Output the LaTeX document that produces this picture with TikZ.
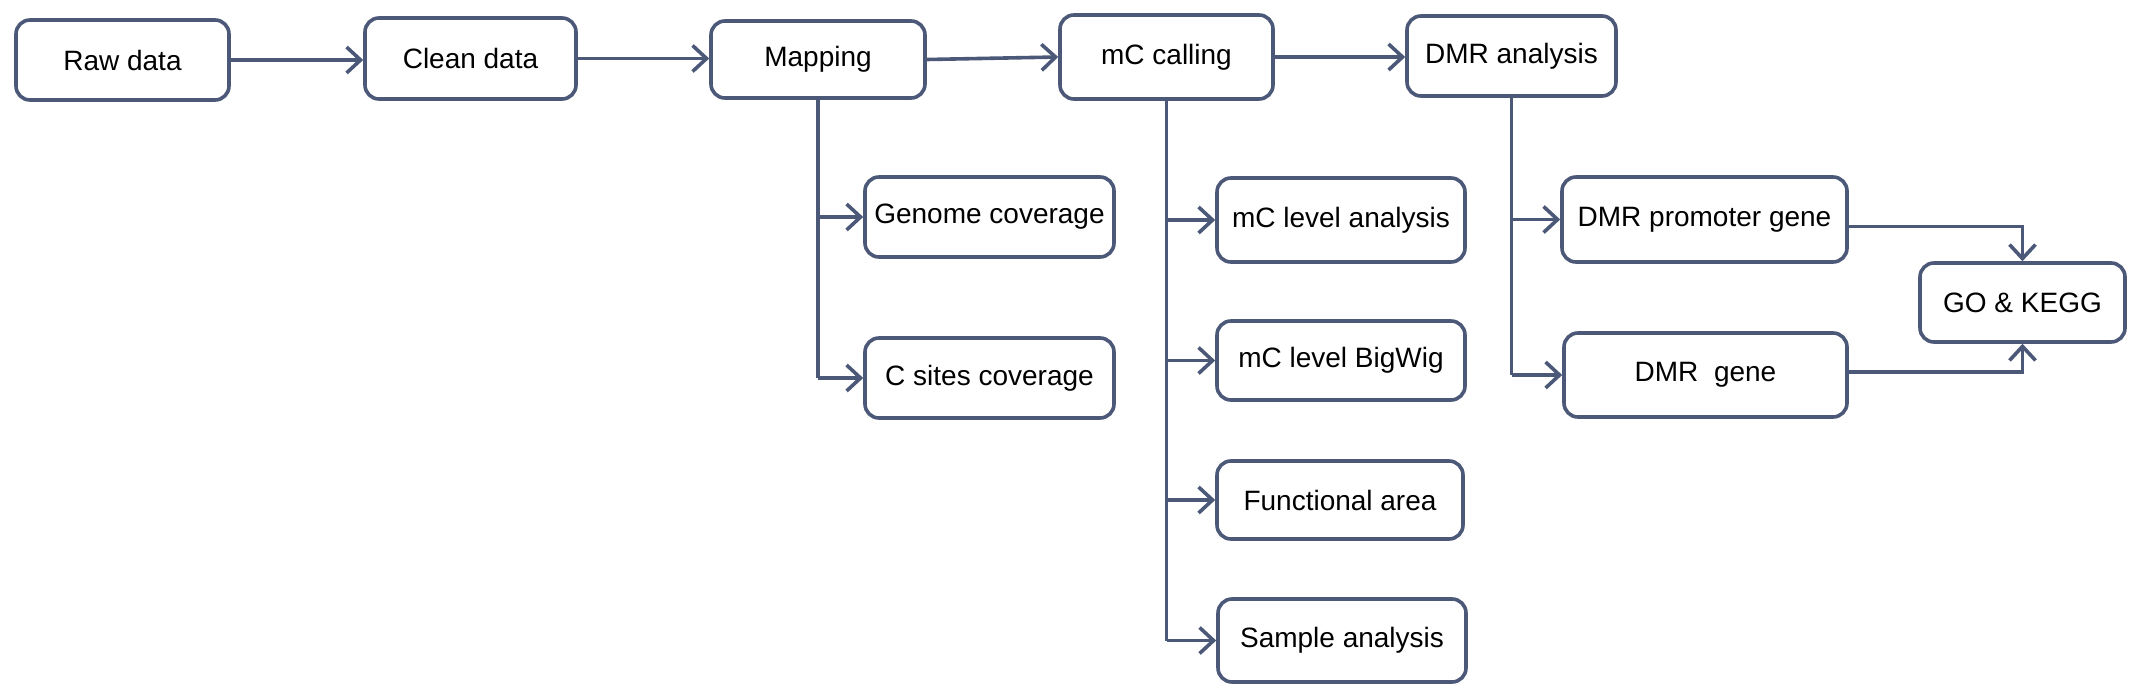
\documentclass[tikz,border=0pt]{standalone}
\usepackage{fontspec}
\setmainfont{Liberation Sans}
\usetikzlibrary{arrows.meta}
\definecolor{lc}{RGB}{76,88,120}
\begin{document}
\begin{tikzpicture}[x=0.5pt,y=-0.5pt,
  box/.style={draw=lc,line width=1.8pt,rounded corners=7pt,fill=white,inner sep=0pt,
    font=\fontsize{14pt}{16pt}\selectfont,text=black},
  conn/.style={draw=lc,line width=1.8pt,-{Straight Barb[length=7pt,width=13pt,line width=1.8pt]}},
  plain/.style={draw=lc,line width=1.8pt}]
\useasboundingbox (0,0) rectangle (2138,696);
\node[box,minimum width=106.5pt,minimum height=40pt] (raw) at (122.5,60) {Raw data};
\node[box,minimum width=105.5pt,minimum height=40.5pt] (clean) at (470.5,58.5) {Clean data};
\node[box,minimum width=107pt,minimum height=38.5pt] (map) at (818,59.5) {Mapping};
\node[box,minimum width=106.5pt,minimum height=42pt] (mc) at (1166.5,57) {mC calling};
\node[box,minimum width=104.5pt,minimum height=40pt] (dmr) at (1511.5,56) {DMR analysis};
\node[box,minimum width=124.5pt,minimum height=40pt] (gen) at (989.5,217) {Genome coverage};
\node[box,minimum width=124.5pt,minimum height=40pt] (cs) at (989.5,378) {C sites coverage};
\node[box,minimum width=124pt,minimum height=42pt] (mcl) at (1341,220) {mC level analysis};
\node[box,minimum width=124pt,minimum height=39.5pt] (bw) at (1341,360.5) {mC level BigWig};
\node[box,minimum width=123pt,minimum height=39pt] (fa) at (1340,500) {Functional area};
\node[box,minimum width=124pt,minimum height=41.5pt] (sa) at (1342,640.5) {Sample analysis};
\node[box,minimum width=142.5pt,minimum height=42.5pt] (prom) at (1704.5,219.5) {DMR promoter gene};
\node[box,minimum width=141.5pt,minimum height=42pt] (dg) at (1705.5,375) {DMR~ gene};
\node[box,minimum width=102.5pt,minimum height=39.5pt] (go) at (2022.5,302.5) {GO \& KEGG};
% main row
\draw[conn] (raw.east) -- (raw.east -| clean.west);
\draw[conn] (clean.east) -- (clean.east -| map.west);
\draw[conn] (map.east) -- (mc.west);
\draw[conn] (mc.east) -- (mc.east -| dmr.west);
% mapping branch
\draw[plain] (map.south) -- (map.south |- cs.west);
\draw[conn] (map.south |- gen.west) -- (gen.west);
\draw[conn] (map.south |- cs.west) -- (cs.west);
% mC branch
\draw[plain] (mc.south) -- (mc.south |- sa.west);
\draw[conn] (mc.south |- mcl.west) -- (mcl.west);
\draw[conn] (mc.south |- bw.west) -- (bw.west);
\draw[conn] (mc.south |- fa.west) -- (fa.west);
\draw[conn] (mc.south |- sa.west) -- (sa.west);
% DMR branch
\draw[plain] (dmr.south) -- (dmr.south |- dg.west);
\draw[conn] (dmr.south |- prom.west) -- (prom.west);
\draw[conn] (dmr.south |- dg.west) -- (dg.west);
% to GO
\draw[conn] ([yshift=-3.5pt]prom.east) -| (go.north);
\draw[conn] ([yshift=1.5pt]dg.east) -| (go.south);
\end{tikzpicture}
\end{document}
